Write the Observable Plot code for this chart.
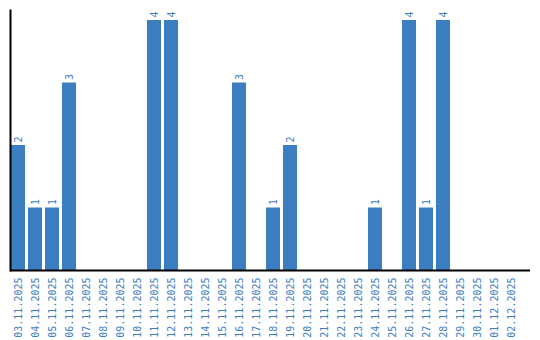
<!DOCTYPE html>
<html><head><meta charset="utf-8">
<script src="https://cdn.jsdelivr.net/npm/d3@7"></script>
<script src="https://cdn.jsdelivr.net/npm/@observablehq/plot@0.6"></script>
<style>body{margin:0;background:#fff;}svg{display:block;}</style>
</head><body><div id="chart"></div>
<script>
const dates = ["03.11.2025","04.11.2025","05.11.2025","06.11.2025","07.11.2025","08.11.2025","09.11.2025","10.11.2025","11.11.2025","12.11.2025","13.11.2025","14.11.2025","15.11.2025","16.11.2025","17.11.2025","18.11.2025","19.11.2025","20.11.2025","21.11.2025","22.11.2025","23.11.2025","24.11.2025","25.11.2025","26.11.2025","27.11.2025","28.11.2025","29.11.2025","30.11.2025","01.12.2025","02.12.2025"];
const counts = [2,1,1,3,0,0,0,0,4,4,0,0,0,3,0,1,2,0,0,0,0,1,0,4,1,4,0,0,0,0];
const data = dates.map((d,i)=>({date:d, count:counts[i]}));
const nz = data.filter(d=>d.count>0);
const blue = "#3b7ec2";
const chart = Plot.plot({
  width: 540, height: 340,
  marginTop: 10, marginBottom: 70, marginLeft: 10, marginRight: 10,
  style: {fontFamily: "'DejaVu Sans Mono', monospace", fontSize: "10px", background: "#fff"},
  x: {domain: dates, range: [10, 518], paddingInner: 0.18, paddingOuter: 0},
  y: {domain: [0, 4.16]},
  marks: [
    Plot.barY(nz, {x: "date", y: "count", fill: blue}),
    Plot.text(nz, {x: "date", y: "count", text: d=>String(d.count), rotate: -90, textAnchor: "start", dy: -3, fill: blue, fontSize: 10}),
    Plot.axisX({tickSize: 0, tickPadding: 7, tickRotate: -90, color: blue, fill: blue, fontSize: 10, label: null}),
    Plot.axisY({ticks: [], label: null}),
    Plot.ruleY([0], {stroke: "#000", strokeWidth: 2}),
    Plot.frame({anchor: "left", stroke: "#000", strokeWidth: 2})
  ]
});
document.getElementById("chart").appendChild(chart);
</script></body></html>
